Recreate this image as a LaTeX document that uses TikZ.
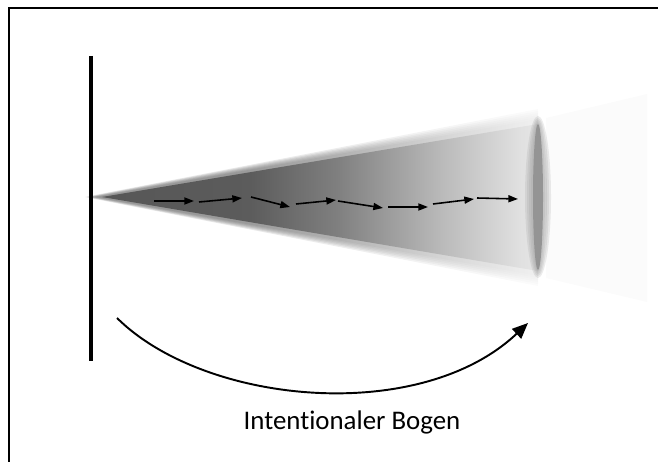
\documentclass[tikz,border=0pt]{standalone}
\usepackage{fontspec}
\setmainfont{Carlito}[Ligatures={NoCommon}]
\usetikzlibrary{arrows.meta}
\pgfdeclarehorizontalshading{conefade}{100bp}{color(0bp)=(black!66); color(25bp)=(black!66); color(42bp)=(black!64); color(52bp)=(black!50); color(64bp)=(black!27); color(73bp)=(black!12); color(75bp)=(black!10); color(100bp)=(black!10)}

\begin{document}
\begin{tikzpicture}[x=0.02cm, y=-0.02cm,
  beam/.style={shading=conefade},
  tick/.style={-{Triangle[length=5.5pt,width=4pt]}, line width=0.9pt},
  bow/.style={-{Triangle[length=9pt,width=7.5pt]}, line width=1.1pt},
  every node/.style={font=\fontsize{15.3}{18}\selectfont}]
\useasboundingbox (0,0) rectangle (658,462);
\draw[line width=1.7pt] (9,462) -- (9,8) -- (658,8);
% faint end box
\fill[black!1.5] (546,118) -- (647,94) -- (647,302) -- (546,278) -- cycle;
% cone, blurred edge
\foreach \e in {12,10,8,6,4,2}
  \shade[beam, opacity=0.15] (97-\e,197) -- (538,121-\e) -- (538,274+\e) -- cycle;
\shade[beam] (102,197) -- (538,124) -- (538,271) -- cycle;
% end of cone
\foreach \e in {8,6,4,2}
  \fill[black!42, opacity=0.18] (538,197) ellipse [x radius=5+\e, y radius=73+\e];
\fill[black!42] (538,197) ellipse [x radius=5, y radius=73];
% wall
\coordinate (walltop) at (91,56);
\coordinate (wallbot) at (91,361);
\draw[line width=2pt] (walltop) -- (wallbot);
% small steps
\foreach \i/\xa/\ya/\xb/\yb in {1/154/201/194/201, 2/199/202/242/198, 3/251/197/290/207, 4/296/204/336/200, 5/338/201/383/208, 6/388/207/428/207, 7/433/204/474/199, 8/477/198/518/199} {
  \coordinate (s\i) at (\xa,\ya);
  \coordinate (t\i) at (\xb,\yb);
  \draw[tick] (s\i) -- (t\i);
}
% arc
\coordinate (bowstart) at (117,318);
\coordinate (bowend) at (528,323);
\draw[bow] (bowstart) .. controls (205,405) and (420,425) .. (bowend);
\node[anchor=base] (label) at (352,429) {Intentionaler Bogen};
\end{tikzpicture}
\end{document}
